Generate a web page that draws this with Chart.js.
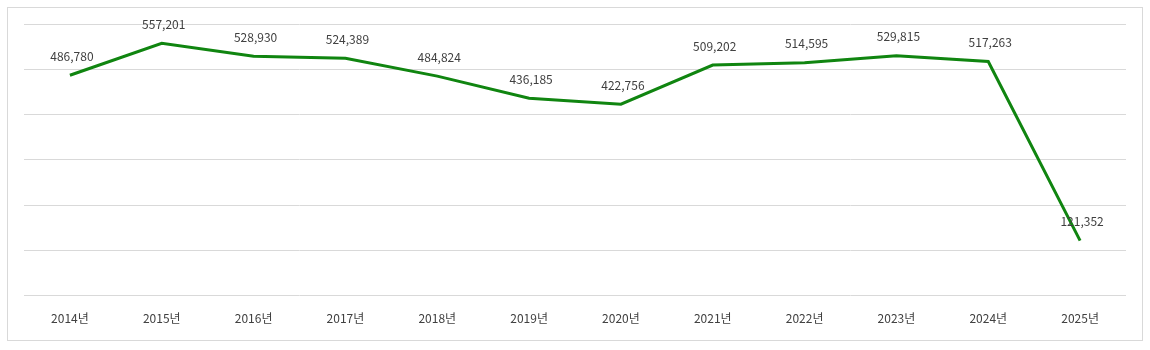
<!DOCTYPE html>
<html>
<head>
<meta charset="utf-8">
<script src="https://cdn.jsdelivr.net/npm/chart.js"></script>
<style>
  body { margin: 0; background: #fff; }
  #box {
    position: absolute; left: 7px; top: 7px;
    width: 1134px; height: 332px;
    border: 1px solid #d9d9d9;
  }
  #chart { display: block; }
</style>
</head>
<body>
<div id="box"><canvas id="chart" width="1134" height="332"></canvas></div>
<script>
const years = ["2014년", "2015년", "2016년", "2017년", "2018년", "2019년",
               "2020년", "2021년", "2022년", "2023년", "2024년", "2025년"];
const counts = [486780, 557201, 528930, 524389, 484824, 436185,
                422756, 509202, 514595, 529815, 517263, 121352];

const FONT = "'Noto Sans CJK KR', 'Noto Sans', sans-serif";

// value labels above each point
const pointLabels = {
  id: "pointLabels",
  afterDatasetsDraw(chart) {
    const ctx = chart.ctx;
    const meta = chart.getDatasetMeta(0);
    ctx.save();
    ctx.font = "12px " + FONT;
    ctx.fillStyle = "#404040";
    ctx.textAlign = "center";
    ctx.textBaseline = "middle";
    meta.data.forEach((pt, i) => {
      ctx.fillText(counts[i].toLocaleString("en-US"), pt.x + 2, pt.y - 19);
    });
    ctx.restore();
  }
};

new Chart(document.getElementById("chart"), {
  type: "line",
  data: {
    labels: years,
    datasets: [{
      data: counts,
      borderColor: "#108510",
      borderWidth: 3,
      pointRadius: 0,
      tension: 0,
      fill: false
    }]
  },
  options: {
    responsive: false,
    animation: false,
    layout: { padding: { left: 16, right: 16, top: 16, bottom: 6 } },
    plugins: {
      legend: { display: false },
      tooltip: { enabled: false }
    },
    scales: {
      x: {
        offset: true,
        grid: { display: false },
        border: { display: false },
        ticks: {
          color: "#404040",
          font: { family: FONT, size: 12 },
          padding: 8,
          maxRotation: 0
        }
      },
      y: {
        min: 0,
        max: 600000,
        grid: { color: "#d9d9d9", lineWidth: 1, drawTicks: false },
        border: { display: false },
        ticks: { display: false, stepSize: 100000 }
      }
    }
  },
  plugins: [pointLabels]
});
</script>
</body>
</html>
